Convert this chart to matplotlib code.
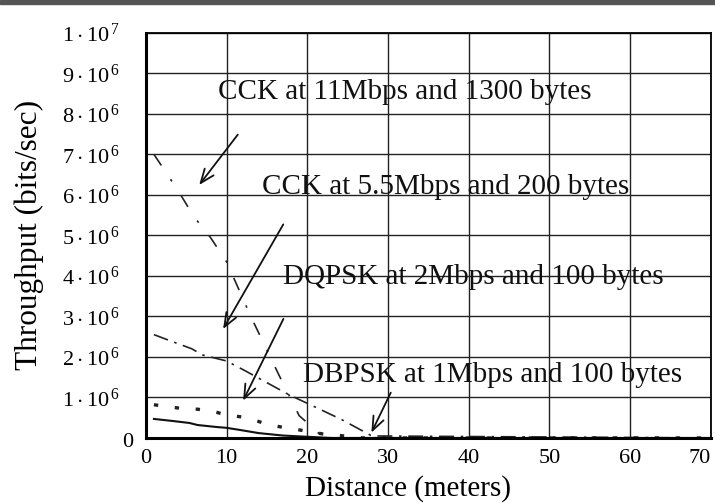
import numpy as np
import matplotlib.pyplot as plt

plt.rcParams['font.family'] = ['Liberation Serif', 'DejaVu Serif']
plt.rcParams['mathtext.fontset'] = 'custom'
plt.rcParams['mathtext.rm'] = 'Liberation Serif'
plt.rcParams['mathtext.it'] = 'Liberation Serif'

# throughput vs distance, values in bits/sec
cck11_x = [1, 4, 6, 8, 10, 13, 16.5, 19, 21, 22, 70]
cck11_y = np.array([7.0, 6.1, 5.45, 4.95, 4.35, 3.0, 1.55, 0.55, 0.2, 0.0, 0.0]) * 1e6

cck55_x = [1, 3, 5.7, 7, 10, 12.2, 14.4, 17.8, 20.6, 24.3, 28, 70]
cck55_y = np.array([2.55, 2.4, 2.2, 2.05, 1.9, 1.67, 1.43, 1.06, 0.8, 0.45, 0.05, 0.0]) * 1e6

dqpsk_x = [1, 3.2, 4.8, 6.4, 8.3, 10.1, 11.9, 13.5, 15.1, 16.8, 18.4, 21.9, 23.6, 27, 70]
dqpsk_y = np.array([0.82, 0.76, 0.72, 0.71, 0.66, 0.56, 0.52, 0.44, 0.33, 0.27, 0.22, 0.1, 0.07, 0.0, 0.0]) * 1e6

dbpsk_x = [1, 3.3, 5.4, 6.4, 8.8, 10, 11.6, 14, 17, 20, 23, 70]
dbpsk_y = np.array([0.47, 0.42, 0.37, 0.32, 0.27, 0.25, 0.2, 0.12, 0.06, 0.03, 0.0, 0.0]) * 1e6

labels = ["CCK at 11Mbps and 1300 bytes", "CCK at 5.5Mbps and 200 bytes",
          "DQPSK at 2Mbps and 100 bytes", "DBPSK at 1Mbps and 100 bytes"]
label_pos = [(8.9, 8.55e6), (14.4, 6.2e6), (17.0, 3.98e6), (19.5, 1.55e6)]
arrow_tail = [(11.6, 7.54e6), (17.2, 5.33e6), (17.2, 3.0e6), (30.5, 1.18e6)]
arrow_tip = [(6.4, 6.19e6), (9.4, 2.63e6), (11.9, 0.86e6), (27.8, 0.07e6)]

yticks = [1e6, 2e6, 3e6, 4e6, 5e6, 6e6, 7e6, 8e6, 9e6, 1e7]
ytick_labels = [r"$%d\cdot10^{\,6}$" % i for i in range(1, 10)] + [r"$1\cdot10^{\,7}$"]
xticks = [0, 10, 20, 30, 40, 50, 60, 70]

fig = plt.figure(figsize=(7.15, 5.04), dpi=100)
fig.patches.append(plt.Rectangle((0, 0.993), 1, 0.007, transform=fig.transFigure,
                                 color='#555555', zorder=10))
ax = fig.add_axes([0.204, 0.131, 0.79, 0.804])

ax.plot(cck11_x, cck11_y, color='#222222', lw=1.2, ls=(0, (8, 10, 1.5, 10)))
ax.plot(cck55_x, cck55_y, color='#222222', lw=1.2, ls=(0, (9, 4, 1.5, 4)))
ax.plot(dqpsk_x, dqpsk_y, color='#222222', lw=2.4, ls=(0, (1.3, 5)))
ax.plot(dbpsk_x, dbpsk_y, color='#111111', lw=1.5)

for txt, pos in zip(labels, label_pos):
    ax.text(pos[0], pos[1], txt, fontsize=21, va='center', ha='left', color='#111111')

for tail, tip in zip(arrow_tail, arrow_tip):
    ax.annotate('', xy=tip, xytext=tail,
                arrowprops=dict(arrowstyle='->,head_length=1.0,head_width=0.4',
                                color='#111111', lw=1.3))

ax.set_xlim(0, 70)
ax.set_ylim(0, 1e7)
ax.set_xticks(xticks)
ax.set_yticks(yticks)
ax.set_yticklabels(ytick_labels, fontsize=16)
ax.set_xticklabels([str(v) for v in xticks], fontsize=16)
ax.get_xticklabels()[-1].set_horizontalalignment('right')
ax.tick_params(axis='y', length=0, pad=19)
ax.tick_params(axis='x', length=0, pad=8)
# the zero on the y axis sits closer to the frame than the powers of ten
ax.annotate("0", xy=(0, 0), xytext=(-9, -3), textcoords='offset points',
            ha='right', va='center', fontsize=16, annotation_clip=False)
ax.grid(True, color='#222222', lw=1.0)
ax.set_axisbelow(True)

for side in ['left', 'bottom']:
    ax.spines[side].set_linewidth(2.2)
for side in ['top', 'right']:
    ax.spines[side].set_linewidth(1.3)

ax.set_xlabel("Distance (meters)", fontsize=21)
ax.xaxis.set_label_coords(0.464, -0.092)
ax.set_ylabel("Throughput (bits/sec)", fontsize=22.5, labelpad=13)

fig.savefig("out.png", dpi=100)
